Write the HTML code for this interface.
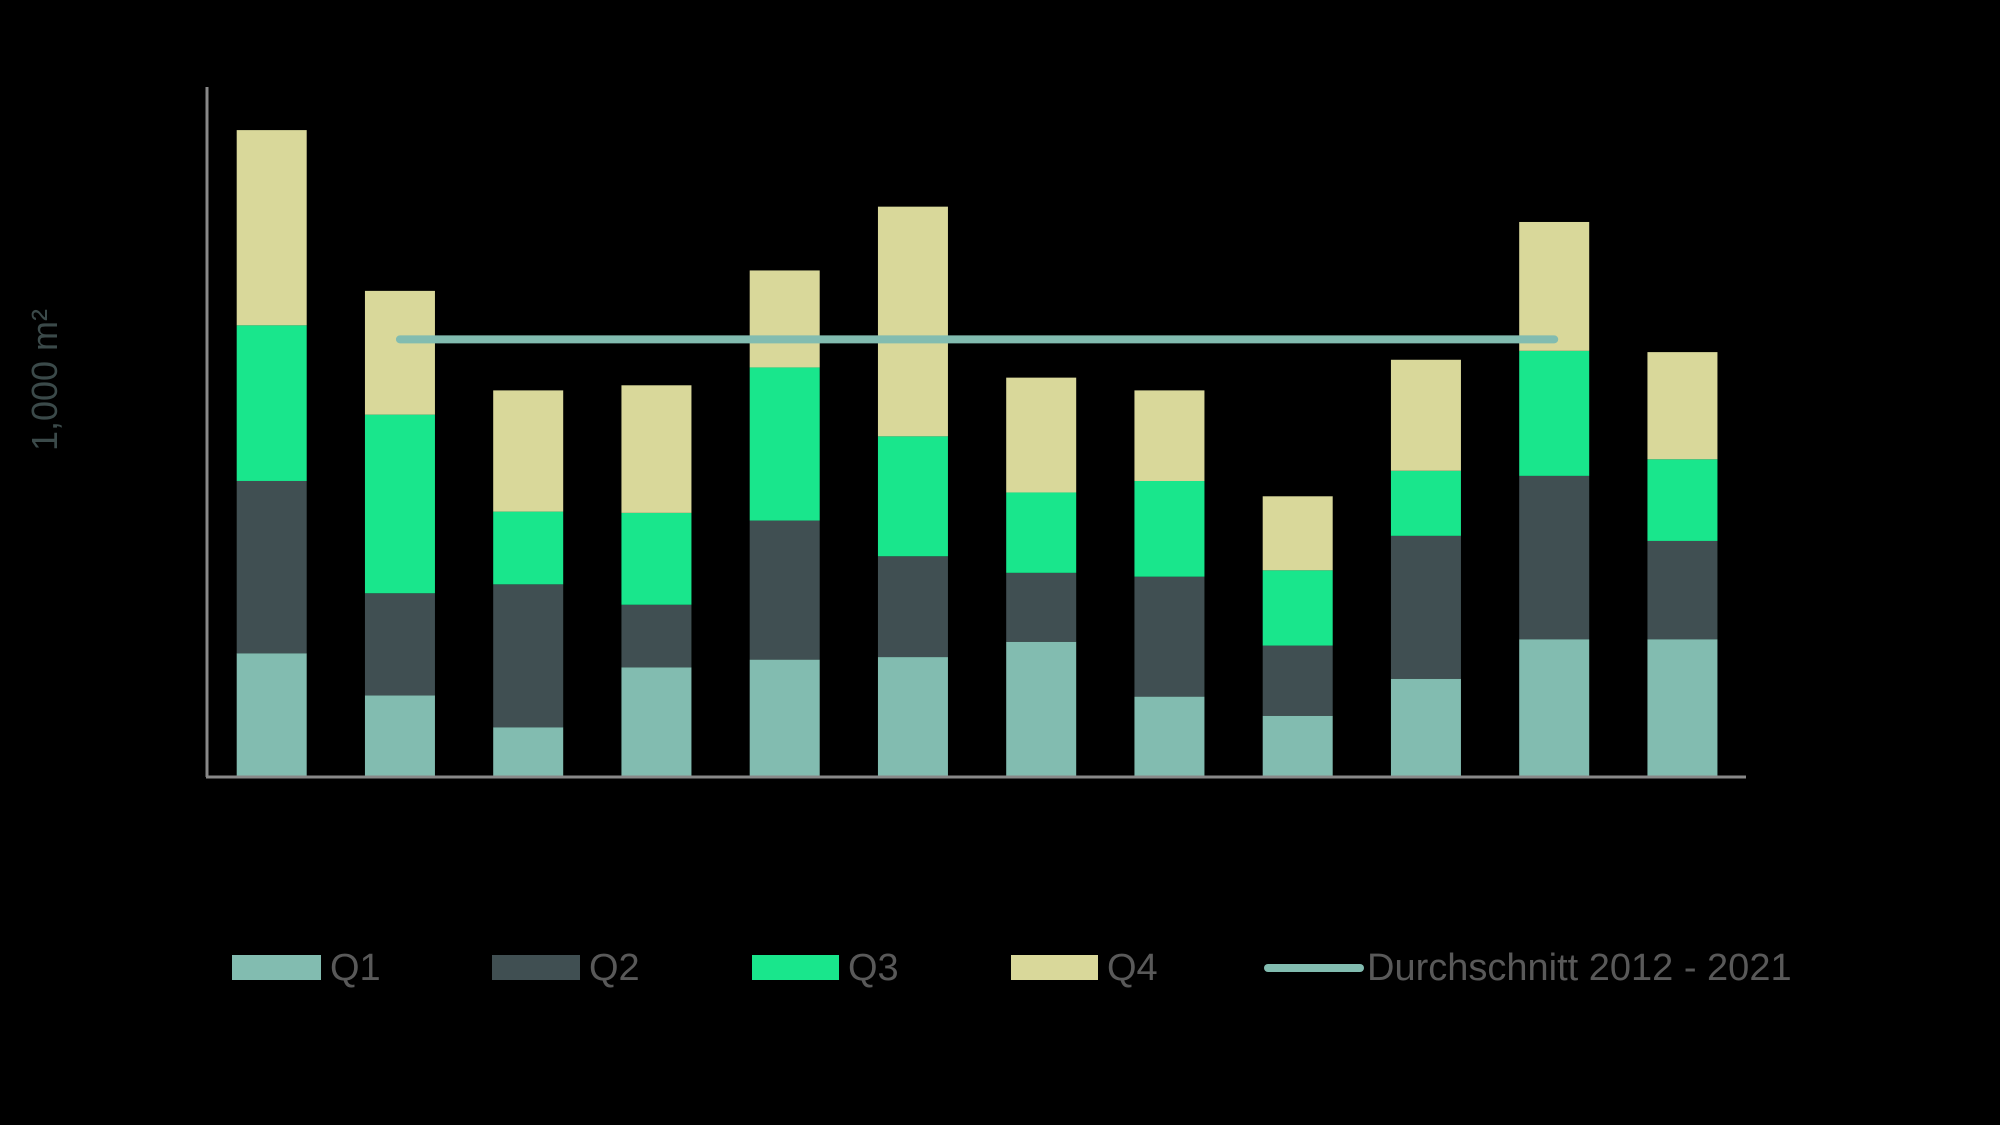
<!DOCTYPE html>
<html><head><meta charset="utf-8"><style>
html,body{margin:0;padding:0;background:#000;}
svg{display:block;font-family:"Liberation Sans",sans-serif;}
</style></head><body>
<svg id="chart" width="2000" height="1125" viewBox="0 0 2000 1125">
<rect width="2000" height="1125" fill="#000"/>
<g id="bars"></g>
<line x1="207" y1="87" x2="207" y2="777" stroke="#888" stroke-width="3"/>
<line x1="206" y1="777" x2="1746" y2="777" stroke="#888" stroke-width="3"/>
<g id="avg"></g>
<text x="0" y="0" transform="translate(57,380) rotate(-90)" text-anchor="middle" font-size="36" fill="#3b4a4a">1,000 m²</text>
<g>
<g><rect x="232" y="955" width="89" height="25" fill="#82bcb0"/><text x="330" y="980" font-size="38" fill="#595959">Q1</text></g>
<g><rect x="492" y="955" width="88" height="25" fill="#404f52"/><text x="589" y="980" font-size="38" fill="#595959">Q2</text></g>
<g><rect x="752" y="955" width="87" height="25" fill="#19e68c"/><text x="848" y="980" font-size="38" fill="#595959">Q3</text></g>
<g><rect x="1011" y="955" width="87" height="25" fill="#d9d89a"/><text x="1107" y="980" font-size="38" fill="#595959">Q4</text></g>
<g><line x1="1268" y1="968" x2="1360" y2="968" stroke="#82bcb0" stroke-width="8" stroke-linecap="round"/><text x="1367" y="980" font-size="38" fill="#595959">Durchschnitt 2012 - 2021</text></g>
</g>
</svg>
<script>
const categories = ["2010","2011","2012","2013","2014","2015","2016","2017","2018","2019","2020","2021"];
const q1 = [97,64,39,86,92,94,106,63,48,77,108,108];
const q2 = [135,80,112,49,109,79,54,94,55,112,128,77];
const q3 = [122,140,57,72,120,94,63,75,59,51,98,64];
const q4 = [153,97,95,100,76,180,90,71,58,87,101,84];
const average = 343;
const avgFrom = 1, avgTo = 10;
const series = [q1,q2,q3,q4];
const colors = ["#82bcb0","#404f52","#19e68c","#d9d89a"];
const ns = "http://www.w3.org/2000/svg";
const y = v => 777 - v * (689 / 540);
const xc = i => 271.7 + i * 128.25;
const bw = 70;
const g = document.getElementById("bars");
categories.forEach((c, i) => {
  let base = 0;
  series.forEach((s, k) => {
    const r = document.createElementNS(ns, "rect");
    r.setAttribute("x", xc(i) - bw / 2);
    r.setAttribute("y", y(base + s[i]));
    r.setAttribute("width", bw);
    r.setAttribute("height", y(base) - y(base + s[i]));
    r.setAttribute("fill", colors[k]);
    
    
    g.appendChild(r);
    base += s[i];
  });
});
const l = document.createElementNS(ns, "line");
l.setAttribute("x1", xc(avgFrom));
l.setAttribute("x2", xc(avgTo));
l.setAttribute("y1", y(average));
l.setAttribute("y2", y(average));
l.setAttribute("stroke", "#82bcb0");
l.setAttribute("stroke-width", "8");
l.setAttribute("stroke-linecap", "round");


document.getElementById("avg").appendChild(l);
</script>
</body></html>
